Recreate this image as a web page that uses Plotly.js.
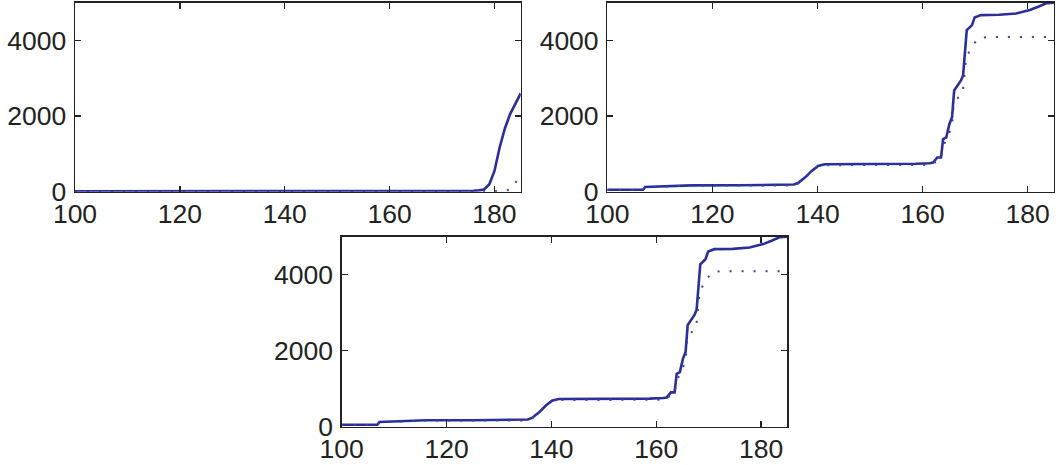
<!DOCTYPE html>
<html>
<head>
<meta charset="utf-8">
<script src="https://cdn.plot.ly/plotly-3.0.1.min.js"></script>
<style>
html,body{margin:0;padding:0;background:#fff;}
#chart{width:1056px;height:465px;}
</style>
</head>
<body>
<div id="chart"></div>
<script>
// ---- Data ----
// Panel 1 (top-left)
const xSolidA = [100, 110, 120, 130, 137, 140, 150, 160, 170, 176, 177, 178, 179, 180, 181, 182, 183, 184, 185];
const ySolidA = [10, 10, 10, 12, 15, 20, 20, 20, 22, 25, 35, 60, 190, 550, 1180, 1680, 2060, 2350, 2600];
const xDotA = [100, 120, 140, 160, 180, 182, 183, 183.5, 184, 184.5, 185];
const yDotA = [0, 0, 5, 5, 10, 20, 60, 120, 230, 380, 450];

// Panels 2 and 3 (top-right and bottom show the same curves)
const xSolidB = [100, 106.8, 107.2, 110, 116, 125, 134.4, 135.5, 136.3, 137.6, 138.9, 140.1, 141.4, 150, 158.7, 161.3, 162.0, 162.8, 163.5, 163.9, 164.5, 165.1, 165.6, 166.0, 167.3, 167.7, 168.4, 169.4, 169.9, 171.1, 174.6, 177.8, 180.4, 182.0, 183.6, 185];
const ySolidB = [50, 50, 125, 135, 168, 170, 172, 190, 230, 372, 550, 683, 727, 730, 740, 754, 770, 904, 904, 1392, 1436, 1791, 1968, 2677, 2943, 3076, 4273, 4406, 4610, 4672, 4680, 4716, 4805, 4894, 4990, 5000];
const xDotB = [100, 106.8, 107.2, 116, 134.4, 136.3, 137.6, 138.9, 140.1, 141.4, 150, 162, 162.8, 163.5, 163.8, 164.5, 165.6, 165.9, 166.5, 167.6, 167.9, 168.1, 168.3, 169.4, 170.5, 172.1, 185];
const yDotB = [45, 45, 120, 160, 165, 215, 360, 540, 670, 700, 705, 710, 860, 880, 1170, 1400, 1720, 2323, 2450, 2606, 2943, 3254, 3564, 3830, 4052, 4090, 4090];

// Axis ticks
const xTicks = [100, 120, 140, 160, 180];
const yTicks = [0, 2000, 4000];
const xRange = [100, 185];
const yRange = [0, 5000];

// ---- Styles ----
const blue = '#2b2f98';
const solidLine = {color: blue, width: 2.6};
const dotLine = {color: '#3640b0', width: 2, dash: '2px,10px'};

function solid(x, y, xa, ya) {
  return {x: x, y: y, xaxis: xa, yaxis: ya, type: 'scatter', mode: 'lines', line: solidLine, hoverinfo: 'skip'};
}
function dotted(x, y, xa, ya) {
  return {x: x, y: y, xaxis: xa, yaxis: ya, type: 'scatter', mode: 'lines', line: dotLine, hoverinfo: 'skip'};
}

const data = [
  dotted(xDotA, yDotA, 'x', 'y'),
  solid(xSolidA, ySolidA, 'x', 'y'),
  solid(xSolidB, ySolidB, 'x2', 'y2'),
  dotted(xDotB, yDotB, 'x2', 'y2'),
  solid(xSolidB, ySolidB, 'x3', 'y3'),
  dotted(xDotB, yDotB, 'x3', 'y3')
];

const tickFont = {family: 'Liberation Sans, Arial, sans-serif', size: 26.5, color: '#222'};
function xa(domain, anchor) {
  return {domain: domain, anchor: anchor, range: xRange, tickvals: xTicks, ticktext: xTicks.map(String),
    ticks: 'inside', ticklen: 6, tickwidth: 1.3, tickcolor: '#222', mirror: 'ticks',
    showline: true, linecolor: '#222', linewidth: 1.4, showgrid: false, zeroline: false,
    tickfont: tickFont, fixedrange: true, ticklabelstandoff: -2};
}
function ya(domain, anchor) {
  return {domain: domain, anchor: anchor, range: yRange, tickvals: yTicks, ticktext: yTicks.map(String),
    ticks: 'inside', ticklen: 6, tickwidth: 1.3, tickcolor: '#222', mirror: 'ticks',
    showline: true, linecolor: '#222', linewidth: 1.4, showgrid: false, zeroline: false,
    tickfont: tickFont, fixedrange: true, ticklabelstandoff: 2};
}

const W = 1056, H = 465;
const layout = {
  width: W, height: H,
  margin: {l: 0, r: 0, t: 0, b: 0},
  paper_bgcolor: '#fff', plot_bgcolor: '#fff',
  showlegend: false, hovermode: false,
  xaxis: xa([75 / W, 520.7 / W], 'y'),
  yaxis: ya([(H - 191.7) / H, (H - 2.7) / H], 'x'),
  xaxis2: xa([607.3 / W, 1054 / W], 'y2'),
  yaxis2: ya([(H - 191.7) / H, (H - 2.7) / H], 'x2'),
  xaxis3: xa([341.7 / W, 787.3 / W], 'y3'),
  yaxis3: ya([(H - 426.7) / H, (H - 236.7) / H], 'x3')
};

Plotly.newPlot('chart', data, layout, {staticPlot: true, displayModeBar: false});
</script>
</body>
</html>
